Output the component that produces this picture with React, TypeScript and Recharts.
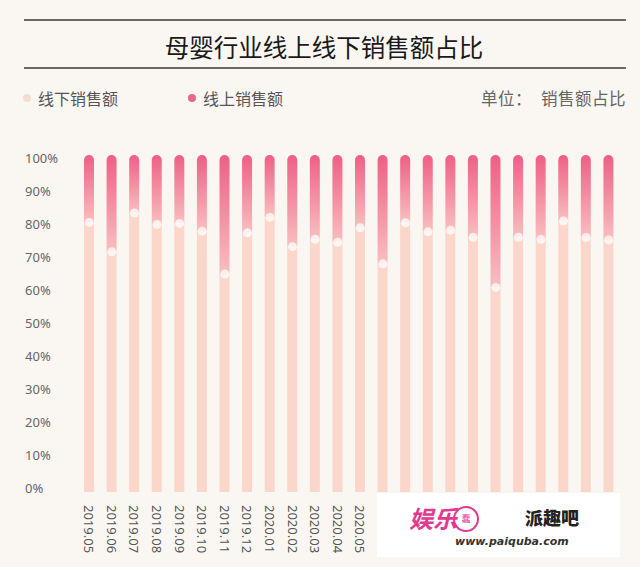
import { ComposedChart, Bar, Line, XAxis, YAxis } from "recharts";

const months = [
  "2019.05", "2019.06", "2019.07", "2019.08", "2019.09", "2019.10",
  "2019.11", "2019.12", "2020.01", "2020.02", "2020.03", "2020.04",
  "2020.05", "2020.06", "2020.07", "2020.08", "2020.09", "2020.10",
  "2020.11", "2020.12", "2021.01", "2021.02", "2021.03", "2021.04",
];

// 线下销售额占比 (%)
const offline = [
  80.0, 71.3, 82.8, 79.4, 79.7, 77.4, 64.7, 76.9, 81.5, 72.8, 75.0, 74.1,
  78.4, 67.7, 79.9, 77.2, 77.7, 75.6, 60.7, 75.6, 75.0, 80.4, 75.5, 74.8,
];

// 线上销售额占比 (%)
const online = [
  20.0, 28.7, 17.2, 20.6, 20.3, 22.6, 35.3, 23.1, 18.5, 27.2, 25.0, 25.9,
  21.6, 32.3, 20.1, 22.8, 22.3, 24.4, 39.3, 24.4, 25.0, 19.6, 24.5, 25.2,
];

const yTicks = [0, 10, 20, 30, 40, 50, 60, 70, 80, 90, 100];

const data = months.map((m, i) => ({ month: m, offline: offline[i], online: online[i] }));

const FONT = '"Noto Sans", "Noto Sans CJK SC", sans-serif';
const CJK = '"Noto Sans CJK SC", "Noto Sans", sans-serif';

const YTick = (props: any) => {
  const { y, payload } = props;
  const v = payload.value as number;
  // labels sit on a slightly tighter scale than the bars
  const ty = y - 3.7 + 0.07 * v;
  return (
    <text x={25} y={ty} dy="0.35em" textAnchor="start" fill="#666" fontSize={13} fontFamily={FONT}>
      {v}%
    </text>
  );
};

const XTick = (props: any) => {
  const { x, y, payload } = props;
  const ty = y + 13;
  return (
    <text
      x={x}
      y={ty}
      transform={`rotate(90, ${x}, ${ty})`}
      textAnchor="start"
      dominantBaseline="central"
      fill="#555"
      fontSize={13}
      fontFamily={FONT}
    >
      {payload.value}
    </text>
  );
};

export default function App() {
  return (
    <div
      style={{
        position: "absolute",
        left: 0,
        top: 0,
        width: 640,
        height: 567,
        background: "#FAF7F2",
        overflow: "hidden",
      }}
    >
      <div style={{ position: "absolute", left: 24, top: 19, width: 602, height: 2, background: "#6d6866" }} />
      <div
        style={{
          position: "absolute",
          left: 0,
          top: 30,
          width: 648,
          textAlign: "center",
          fontFamily: CJK,
          fontSize: 24.5,
          fontWeight: 400,
          color: "#1a1a1a",
          lineHeight: "34px",
        }}
      >
        母婴行业线上线下销售额占比
      </div>
      <div style={{ position: "absolute", left: 24, top: 67, width: 602, height: 2, background: "#6d6866" }} />

      <div style={{ position: "absolute", left: 23, top: 94, width: 8, height: 8, borderRadius: 4, background: "#F3DDD2" }} />
      <div style={{ position: "absolute", left: 38, top: 87, fontFamily: CJK, fontSize: 16, color: "#555", lineHeight: "22px" }}>
        线下销售额
      </div>
      <div style={{ position: "absolute", left: 188, top: 94, width: 8, height: 8, borderRadius: 4, background: "#E8688B" }} />
      <div style={{ position: "absolute", left: 203, top: 87, fontFamily: CJK, fontSize: 16, color: "#555", lineHeight: "22px" }}>
        线上销售额
      </div>
      <div
        style={{
          position: "absolute",
          right: 14,
          top: 87,
          fontFamily: CJK,
          fontSize: 16.5,
          color: "#666",
          lineHeight: "22px",
          whiteSpace: "nowrap",
          letterSpacing: 0.5,
        }}
      >
        单位：<span style={{ marginLeft: 9 }}>销售额占比</span>
      </div>

      <div style={{ position: "absolute", left: 0, top: 0 }}>
        <ComposedChart width={640} height={567} data={data} margin={{ top: 155, right: 20, bottom: 0, left: 25 }}>
          <defs>
            <linearGradient id="onlineGrad" x1="0" y1="0" x2="0" y2="1">
              <stop offset="0%" stopColor="#EE5F86" />
              <stop offset="100%" stopColor="#F9BFBF" />
            </linearGradient>
          </defs>
          <XAxis
            dataKey="month"
            axisLine={false}
            tickLine={false}
            tickSize={0}
            tickMargin={0}
            height={75}
            interval={0}
            tick={<XTick />}
          />
          <YAxis
            domain={[0, 100]}
            ticks={yTicks}
            axisLine={false}
            tickLine={false}
            width={53}
            tick={<YTick />}
          />
          <Bar dataKey="offline" stackId="s" fill="#FBD6CA" barSize={10} isAnimationActive={false} />
          <Bar
            dataKey="online"
            stackId="s"
            fill="url(#onlineGrad)"
            barSize={10}
            radius={[5, 5, 0, 0]}
            isAnimationActive={false}
          />
          <Line
            dataKey="offline"
            stroke="none"
            dot={{ r: 4.5, fill: "#fff", fillOpacity: 0.75, stroke: "none" }}
            activeDot={false}
            isAnimationActive={false}
          />
        </ComposedChart>
      </div>

      <div style={{ position: "absolute", left: 377, top: 493, width: 243, height: 64, background: "#fff" }}>
        <div
          style={{
            position: "absolute",
            left: 32,
            top: 10,
            fontFamily: CJK,
            fontSize: 24,
            fontWeight: 700,
            fontStyle: "italic",
            color: "#E03A90",
            lineHeight: "30px",
          }}
        >
          娱乐
        </div>
        <div
          style={{
            position: "absolute",
            left: 76,
            top: 13,
            width: 26,
            height: 26,
            borderRadius: 13,
            border: "2px solid #E03A90",
            boxSizing: "border-box",
            fontFamily: CJK,
            fontSize: 9,
            color: "#E03A90",
            textAlign: "center",
            lineHeight: "22px",
          }}
        >
          蠢
        </div>
        <div
          style={{
            position: "absolute",
            left: 148,
            top: 12,
            fontFamily: CJK,
            fontSize: 18,
            fontWeight: 900,
            color: "#222",
            lineHeight: "24px",
          }}
        >
          派趣吧
        </div>
        <div
          style={{
            position: "absolute",
            left: 78,
            top: 42,
            fontFamily: '"DejaVu Sans", sans-serif',
            fontSize: 11,
            fontWeight: 700,
            fontStyle: "italic",
            color: "#333",
            lineHeight: "14px",
          }}
        >
          www.paiquba.com
        </div>
      </div>
    </div>
  );
}
